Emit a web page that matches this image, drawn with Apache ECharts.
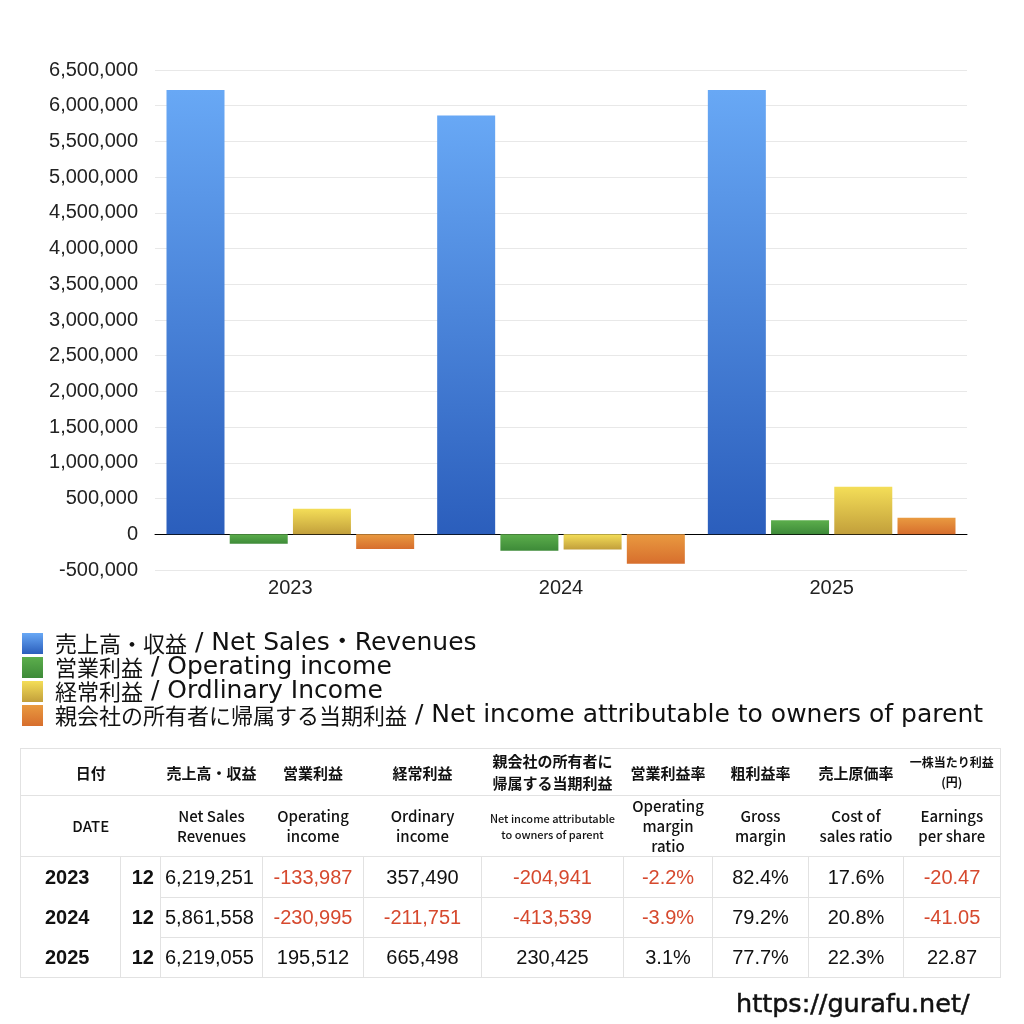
<!DOCTYPE html>
<html><head><meta charset="utf-8">
<script src="https://cdn.jsdelivr.net/npm/echarts@6/dist/echarts.min.js"></script>
<style>
html,body{margin:0;padding:0;background:#fff;}
#wrap{position:relative;width:1024px;height:1024px;}
#chart{position:absolute;left:0;top:0;width:1024px;height:1024px;}
#tbl{position:absolute;left:20px;top:748px;border-collapse:collapse;table-layout:fixed;font-family:"Liberation Sans","Noto Sans CJK JP",sans-serif;color:#111;}
#tbl td{padding:0;text-align:center;vertical-align:middle;border:1px solid #e2e2e2;}
#tbl tr.h td{border-left:none;border-right:none;font-family:"Noto Sans CJK JP",sans-serif;}
#tbl tr.h td:first-child{border-left:1px solid #e2e2e2;}
#tbl tr.h td:last-child{border-right:1px solid #e2e2e2;}
#tbl tr.h1 td{font-weight:bold;font-size:15px;}
#tbl tr.h2 td{font-size:15px;font-weight:500;line-height:20px;}
#tbl tr.d td{font-size:20px;}
#tbl td.y{font-weight:bold;font-size:23px;text-align:left;padding-left:24px;}
#tbl td.m{font-weight:bold;font-size:22px;text-align:right;padding-right:6px;}
#tbl td.nb{border-bottom:none;}
#tbl td.nt{border-top:none;}
.neg{color:#d6492e;}
#url{position:absolute;left:736px;top:988px;font-family:"DejaVu Sans",sans-serif;font-size:25.5px;color:#111;-webkit-text-stroke:0.5px #111;}
</style></head>
<body><div id="wrap"><div id="chart"></div><table id="tbl"></table><div id="url">https://gurafu.net/</div></div>
<script>
const years = ['2023','2024','2025'];
const months = ['12','12','12'];
const netSales = [6219251, 5861558, 6219055];
const operatingIncome = [-133987, -230995, 195512];
const ordinaryIncome = [357490, -211751, 665498];
const netIncome = [-204941, -413539, 230425];
const operatingMargin = ['-2.2%','-3.9%','3.1%'];
const grossMargin = ['82.4%','79.2%','77.7%'];
const costRatio = ['17.6%','20.8%','22.3%'];
const eps = ['-20.47','-41.05','22.87'];
const seriesNames = ['売上高・収益 / Net Sales・Revenues','営業利益 / Operating income','経常利益 / Ordlinary Income','親会社の所有者に帰属する当期利益 / Net income attributable to owners of parent'];
const headerJa = ['日付','売上高・収益','営業利益','経常利益','親会社の所有者に<br>帰属する当期利益','営業利益率','粗利益率','売上原価率','一株当たり利益<br>(円)'];
const headerEn = ['DATE','Net Sales<br>Revenues','Operating<br>income','Ordinary<br>income','Net income attributable<br>to owners of parent','Operating<br>margin<br>ratio','Gross<br>margin','Cost of<br>sales ratio','Earnings<br>per share'];

function grad(top, bottom){
  return new echarts.graphic.LinearGradient(0,0,0,1,[{offset:0,color:top},{offset:1,color:bottom}]);
}
const colors = [['#68a8f5','#2b5ebc'],['#5cae4c','#3d8a38'],['#f4de58','#c29f3b'],['#e99a40','#d76e2d']];
const datas = [netSales, operatingIncome, ordinaryIncome, netIncome];

const chart = echarts.init(document.getElementById('chart'));
const font = '"Liberation Sans","Noto Sans CJK JP",sans-serif';
chart.setOption({
  animation:false,
  textStyle:{fontFamily:font},
  grid:{left:155,right:57,top:70,bottom:454,containLabel:false},
  xAxis:{type:'category',data:years,axisTick:{show:false},
    axisLine:{lineStyle:{color:'#000',width:1}},
    axisLabel:{fontSize:20,color:'#222',margin:8,fontFamily:font}},
  yAxis:{type:'value',min:-500000,max:6500000,interval:500000,
    axisLabel:{fontSize:20,color:'#222',margin:17,fontFamily:font,
      formatter:v=>v.toLocaleString('en-US')},
    splitLine:{lineStyle:{color:'#e8e8e8'}},axisLine:{show:false},axisTick:{show:false}},
  legend:{orient:'vertical',left:17,top:626,itemWidth:21,itemHeight:21,itemGap:-1,
    formatter:name=>{const k=name.indexOf(' / ');return '{ja|'+name.slice(0,k)+'}{en|'+name.slice(k)+'}';},
    textStyle:{color:'#111',padding:[0,0,0,7],lineHeight:21,
      rich:{ja:{fontSize:22,lineHeight:21,fontFamily:'"Noto Sans CJK JP",sans-serif',color:'#111'},
            en:{fontSize:25,lineHeight:21,fontFamily:'"DejaVu Sans","Noto Sans CJK JP",sans-serif',color:'#111'}}},
    icon:'rect',data:seriesNames},
  series: datas.map((d,i)=>({
    name:seriesNames[i],type:'bar',data:d,barGap:'9%',barCategoryGap:'8.5%',
    itemStyle:{color:grad(colors[i][0],colors[i][1])}
  }))
});

// table
const tbl = document.getElementById('tbl');
const widths=[100,40,102,101,118,142,89,96,95,97];
let html='<colgroup>'+widths.map(w=>`<col style="width:${w}px">`).join('')+'</colgroup>';
html+='<tr class="h h1" style="height:47px">'+headerJa.map((h,i)=>`<td${i===0?' colspan="2"':''}${i===4?' style="font-size:15px;line-height:22px"':''}${i===8?' style="font-size:12px;line-height:20px"':''}>${h}</td>`).join('')+'</tr>';
html+='<tr class="h h2" style="height:61px">'+headerEn.map((h,i)=>`<td${i===0?' colspan="2"':''}${i===4?' style="font-size:11px;line-height:16px"':''}>${h}</td>`).join('')+'</tr>';
const fmt=v=>v.toLocaleString('en-US');
const cls=s=>String(s).startsWith('-')?' class="neg"':'';
for(let r=0;r<years.length;r++){
  const h = r===0?41:40;
  const yc = (r<years.length-1?' nb':'')+(r>0?' nt':'');
  const vals=[fmt(netSales[r]),fmt(operatingIncome[r]),fmt(ordinaryIncome[r]),fmt(netIncome[r]),operatingMargin[r],grossMargin[r],costRatio[r],eps[r]];
  html+=`<tr class="d" style="height:${h}px"><td class="y${yc}">${years[r]}</td><td class="m${yc}">${months[r]}</td>`+
    vals.map((v,i)=>`<td${cls(v)}${i===0?' style="text-align:left;padding-left:4px"':''}>${v}</td>`).join('')+'</tr>';
}
tbl.innerHTML=html;
</script></body></html>
